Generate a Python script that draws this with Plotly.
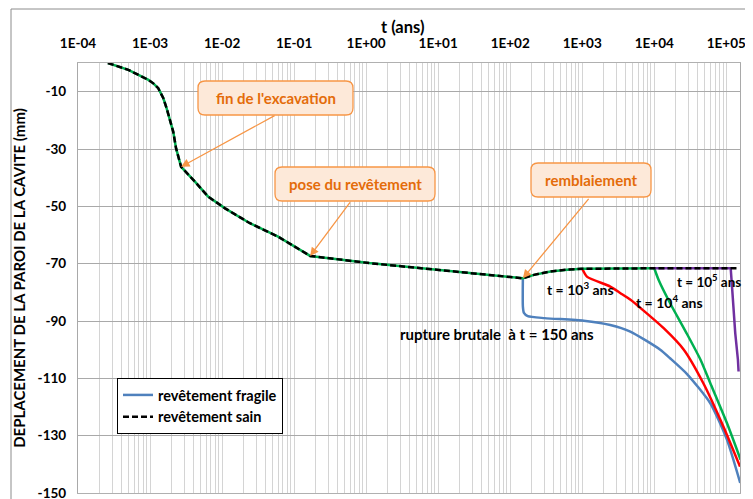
import plotly.graph_objects as go
import numpy as np

# ---- data (t in years, displacement in mm) ----
t_main = [2.6e-4, 5e-4, 9.5e-4, 1.11e-3, 1.3e-3, 1.53e-3, 1.7e-3, 2.1e-3, 2.3e-3, 2.7e-3,
          4.2e-3, 6.4e-3, 0.011, 0.024, 0.06, 0.167, 1.1, 10, 72, 150]
u_main = [0, -2.4, -5.9, -7.1, -8.8, -12.3, -15.8, -24, -29.8, -36.2,
          -41.4, -46.6, -50.7, -55.8, -60.6, -67.3, -69.8, -72.2, -74.5, -75.1]

t_sain_after = [214, 363, 617, 1000, 1e4, 1.15e5, 1.48e5]
u_sain_after = [-73.9, -72.7, -72.1, -71.8, -71.6, -71.6, -71.6]

t_blue = [150, 150, 155, 175, 300, 1050, 2450, 4650, 1.21e4, 1.66e4, 2.85e4, 6e4, 1.02e5, 1.56e5]
u_blue = [-75.1, -85.0, -87.2, -88.3, -89.0, -89.9, -91.4, -93.7, -100, -103, -108.5, -118.7, -131.4, -146.5]

t_red = [1000, 1160, 2450, 3400, 4680, 6460, 1.35e4, 2.57e4, 4.8e4, 9.1e4, 1.55e5]
u_red = [-71.8, -74.5, -78, -80.3, -82.6, -85.5, -92.5, -100, -111.7, -126.8, -140.8]

t_green = [1e4, 1.15e4, 1.66e4, 2.8e4, 4.4e4, 6e4, 1.02e5, 1.58e5]
u_green = [-71.6, -75.7, -83.8, -94.2, -103.6, -111.7, -125.6, -138.4]

t_purple = [1e4, 1.15e5, 1.2e5, 1.33e5, 1.45e5, 1.48e5]
u_purple = [-71.6, -71.6, -78, -94.2, -103.6, -107.6]

x_major_labels = ["1E-04", "1E-03", "1E-02", "1E-01", "1E+00", "1E+01", "1E+02", "1E+03", "1E+04", "1E+05"]
y_ticks = [-150, -130, -110, -90, -70, -50, -30, -10]
y_tick_labels = ["-150", "-130", "-110", "-90", "-70", "-50", "-30", "-10"]

FONT = "Lato, 'Open Sans', sans-serif"
LW = 2.5
fig = go.Figure()

# fragile lining: shared path before failure (visible under the dashes as green)
xg0 = [t for t in t_main + t_sain_after if t <= 1e4]
yg0 = [u for t, u in zip(t_main + t_sain_after, u_main + u_sain_after) if t <= 1e4]

fig.add_trace(go.Scatter(x=t_blue, y=u_blue, mode="lines", legendgroup="f",
                         line=dict(color="#4F81BD", width=LW, shape="spline", smoothing=0.6),
                         name="revêtement fragile"))
fig.add_trace(go.Scatter(x=t_red, y=u_red, mode="lines", legendgroup="f", showlegend=False,
                         line=dict(color="#FF0000", width=LW, shape="spline", smoothing=0.6)))
fig.add_trace(go.Scatter(x=xg0, y=yg0, mode="lines", legendgroup="f", showlegend=False,
                         line=dict(color="#00B050", width=LW)))
fig.add_trace(go.Scatter(x=t_green, y=u_green, mode="lines", legendgroup="f", showlegend=False,
                         line=dict(color="#00B050", width=LW, shape="spline", smoothing=0.6)))
fig.add_trace(go.Scatter(x=t_purple, y=u_purple, mode="lines", legendgroup="f", showlegend=False,
                         line=dict(color="#7030A0", width=LW)))
fig.add_trace(go.Scatter(x=t_main + t_sain_after, y=u_main + u_sain_after, mode="lines",
                         line=dict(color="black", width=LW, dash="6px,3px"), name="revêtement sain"))

# vertical grid: every 1..9 x 10^k
x_grid, x_grid_text = [], []
for k in range(-4, 6):
    for m in range(1, 10):
        v = m * 10.0 ** k
        if v > 1.6e5:
            continue
        x_grid.append(v)
        x_grid_text.append(x_major_labels[k + 4] if m == 1 else "")

# page offset (body margin) compensation: positions below are screen px
OFF = 8
W, H = 753 - OFF, 499 - OFF
PL, PR, PT, PB = 78, 740, 63, 493          # plot area in screen px
L, T = PL - OFF, PT - OFF
R, B = W - (PR - OFF), H - (PB - OFF)
pw, ph = PR - PL, PB - PT


def px(xs):
    return (xs - PL) / pw


def py(ys):
    return (PB - ys) / ph


fig.update_layout(
    width=W, height=H,
    margin=dict(l=L, r=R, t=T, b=B, autoexpand=False),
    paper_bgcolor="white", plot_bgcolor="white",
    font=dict(family=FONT, color="black"),
    showlegend=True,
    legend=dict(x=px(117), y=py(378), xanchor="left", yanchor="top",
                bordercolor="black", borderwidth=1, bgcolor="white",
                font=dict(size=14.5, family=FONT, weight="bold"),
                tracegroupgap=0, itemwidth=30),
    xaxis=dict(type="log", side="top", range=[-4, 5.19], automargin=False,
               tickmode="array", tickvals=x_grid, ticktext=x_grid_text,
               showgrid=True, gridcolor="#D4D4D4", gridwidth=1.3,
               ticks="", ticklabelstandoff=8, ticklabeloverflow="allow",
               tickfont=dict(size=13.5, family=FONT, weight="bold"),
               showline=True, linecolor="#B0B0B0", linewidth=1.3, mirror=True, zeroline=False),
    yaxis=dict(range=[-150, 0], automargin=False,
               tickmode="array", tickvals=y_ticks, ticktext=y_tick_labels,
               showgrid=True, gridcolor="#A9A9A9", gridwidth=1.3,
               ticks="", ticklabelstandoff=8, ticklabeloverflow="allow",
               tickfont=dict(size=13.5, family=FONT, weight="bold"),
               showline=True, linecolor="#A9A9A9", linewidth=1.3, mirror=True, zeroline=False,
               title=dict(text="DEPLACEMENT DE LA PAROI DE LA CAVITE (mm)",
                          font=dict(size=15, family=FONT, weight="bold"), standoff=8)),
)

# x-axis title (placed precisely above the top tick labels)
fig.add_annotation(xref="paper", yref="paper", x=px(402), y=py(27), text="t (ans)",
                   xanchor="center", yanchor="middle", showarrow=False,
                   font=dict(size=16.5, family=FONT, weight="bold", color="black"))

# outer chart border
fig.add_shape(type="rect", xref="paper", yref="paper",
              x0=px(11), x1=px(751), y0=py(520), y1=py(9),
              line=dict(color="#8C8C8C", width=1), layer="below")


def rounded_box(x0s, y0s, x1s, y1s, r=7):
    rx, ry = r / pw, r / ph
    a, b = px(x0s), px(x1s)
    top, bot = py(y0s), py(y1s)
    path = (f"M {a+rx},{top} L {b-rx},{top} Q {b},{top} {b},{top-ry} "
            f"L {b},{bot+ry} Q {b},{bot} {b-rx},{bot} L {a+rx},{bot} "
            f"Q {a},{bot} {a},{bot+ry} L {a},{top-ry} Q {a},{top} {a+rx},{top} Z")
    fig.add_shape(type="path", xref="paper", yref="paper", path=path,
                  line=dict(color="#F79646", width=1.3), fillcolor="#FDE9D9", layer="above")


callouts = [
    ("fin de l'excavation", (198, 81, 353, 115)),
    ("pose du revêtement", (275, 167, 435, 201)),
    ("remblaiement", (531, 163, 651, 197)),
]
for txt, (x0s, y0s, x1s, y1s) in callouts:
    rounded_box(x0s, y0s, x1s, y1s)
    fig.add_annotation(xref="paper", yref="paper", x=px((x0s + x1s) / 2), y=py((y0s + y1s) / 2),
                       xanchor="center", yanchor="middle",
                       text=txt, showarrow=False,
                       font=dict(size=15, color="#E46C0A", family=FONT, weight="bold"))

# arrows: tip on the curve, tail at the bottom of the callout box (screen px)
arrows = [
    (2.7e-3, -36.2, 277, 115, 182, 167),
    (0.167, -67.3, 352, 201, 311, 256),
    (150, -75.1, 590, 197, 523, 278),
]
for tx, ty, sx, sy, ex, ey in arrows:
    fig.add_annotation(x=np.log10(tx), y=ty, xref="x", yref="y", text="",
                       showarrow=True, ax=sx - ex, ay=sy - ey, axref="pixel", ayref="pixel",
                       arrowcolor="#F79646", arrowwidth=1.3, arrowhead=2, arrowsize=1.3,
                       standoff=0, startstandoff=0)

labels = [
    ("t = 10<sup>3</sup> ans", 580, 288, 14),
    ("t = 10<sup>4</sup> ans", 669, 301, 14),
    ("t = 10<sup>5</sup> ans", 709, 281, 13.5),
    ("rupture brutale  à t = 150 ans", 497, 334, 15),
]
for txt, cx, cy, fs in labels:
    fig.add_annotation(xref="paper", yref="paper", x=px(cx), y=py(cy), text=txt,
                       xanchor="center", yanchor="middle", showarrow=False,
                       font=dict(size=fs, color="black", family=FONT, weight="bold"))

fig.write_html("out.html")
